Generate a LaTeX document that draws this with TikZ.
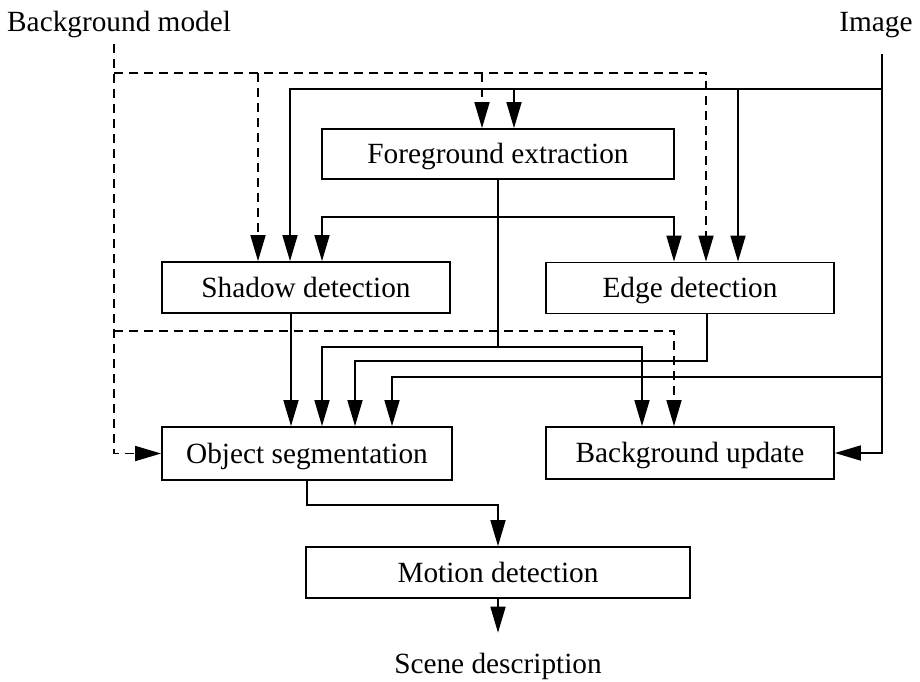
\documentclass[tikz,border=0pt]{standalone}
\usepackage{fontspec}
\setmainfont{Liberation Serif}
\usetikzlibrary{arrows.meta}
\begin{document}
\begin{tikzpicture}[x=1pt,y=-1pt,
  font=\fontsize{29.3}{35}\selectfont,
  stage/.style={draw, line width=1.8pt, minimum width=288pt, minimum height=51pt,
    inner sep=0pt, text height=19.4pt, text depth=0pt},
  wire/.style={line width=1.7pt},
  dashwire/.style={line width=1.7pt, dash pattern=on 9pt off 6pt},
  tip/.style={-{Triangle[length=26pt,width=15pt]}},
  label/.style={inner sep=0pt, anchor=base}]
\useasboundingbox (0,0) rectangle (920,681);

% processing stages
\node[stage, minimum width=352pt, minimum height=50pt] (fg) at (498,154) {Foreground extraction};
\node[stage] (shd) at (306,287.5) {Shadow detection};
\node[stage] (edg) at (690,288) {Edge detection};
\node[stage, minimum width=290pt, minimum height=53pt] (obj) at (307,453.5) {Object segmentation};
\node[stage, minimum height=52pt] (bgu) at (690,453) {Background update};
\node[stage, minimum width=384pt] (mot) at (498,572.5) {Motion detection};

% inputs and output
\node[label, anchor=base west] (bgm) at (7,31) {Background model};
\node[label] (img) at (876,31) {Image};
\node[label, outer ysep=20pt] (scene) at (498,673) {Scene description};

% entry points on the boxes
\coordinate (shd-a) at ([xshift=-48pt]shd.north);
\coordinate (shd-b) at ([xshift=-16pt]shd.north);
\coordinate (shd-c) at ([xshift=16pt]shd.north);
\coordinate (fg-a) at ([xshift=-16pt]fg.north);
\coordinate (fg-b) at ([xshift=16pt]fg.north);
\coordinate (edg-a) at ([xshift=-16pt]edg.north);
\coordinate (edg-b) at ([xshift=16pt]edg.north);
\coordinate (edg-c) at ([xshift=48pt]edg.north);
\coordinate (obj-a) at ([xshift=-16pt]obj.north);
\coordinate (obj-b) at ([xshift=15pt]obj.north);
\coordinate (obj-c) at ([xshift=48pt]obj.north);
\coordinate (obj-d) at ([xshift=85pt]obj.north);
\coordinate (bgu-a) at ([xshift=-48pt]bgu.north);
\coordinate (bgu-b) at ([xshift=-16pt]bgu.north);

% junctions
\coordinate (bmT) at (114,44);
\coordinate (bmA) at (114,73);
\coordinate (bmB) at (114,331);
\coordinate (imgT) at (882,54);
\coordinate (imgA) at (882,89);
\coordinate (imgB) at (882,377);
\coordinate (fgA) at (498,217);
\coordinate (fgB) at (498,347);
\coordinate (edO) at (707,361);
\coordinate (objO) at (307,505);

% background model (dashed)
\draw[dashwire,tip] (bmT) |- (obj.west);
\draw[dashwire,tip] (bmA) -| (edg-b);
\draw[dashwire,tip] (bmA -| shd-a) -- (shd-a);
\draw[dashwire,tip] (bmA -| fg-a) -- (fg-a);
\draw[dashwire,tip] (bmB) -| (bgu-b);

% image
\draw[wire,tip] (imgT) |- (bgu.east);
\draw[wire,tip] (imgA) -| (shd-b);
\draw[wire,tip] (imgA -| fg-b) -- (fg-b);
\draw[wire,tip] (imgA -| edg-c) -- (edg-c);
\draw[wire,tip] (imgB) -| (obj-d);

% foreground
\draw[wire] (fg.south) -- (fgB);
\draw[wire,tip] (fgA) -| (shd-c);
\draw[wire,tip] (fgA) -| (edg-a);
\draw[wire,tip] (fgB) -| (obj-b);
\draw[wire,tip] (fgB) -| (bgu-a);

% shadows and edges
\draw[wire,tip] (shd.south -| obj-a) -- (obj-a);
\draw[wire,tip] (edg.south -| edO) -- (edO) -| (obj-c);

% objects and motion
\draw[wire,tip] (obj.south) |- (mot.north |- objO) -- (mot.north);
\draw[wire,tip] (mot.south) -- (scene.north);
\end{tikzpicture}
\end{document}
